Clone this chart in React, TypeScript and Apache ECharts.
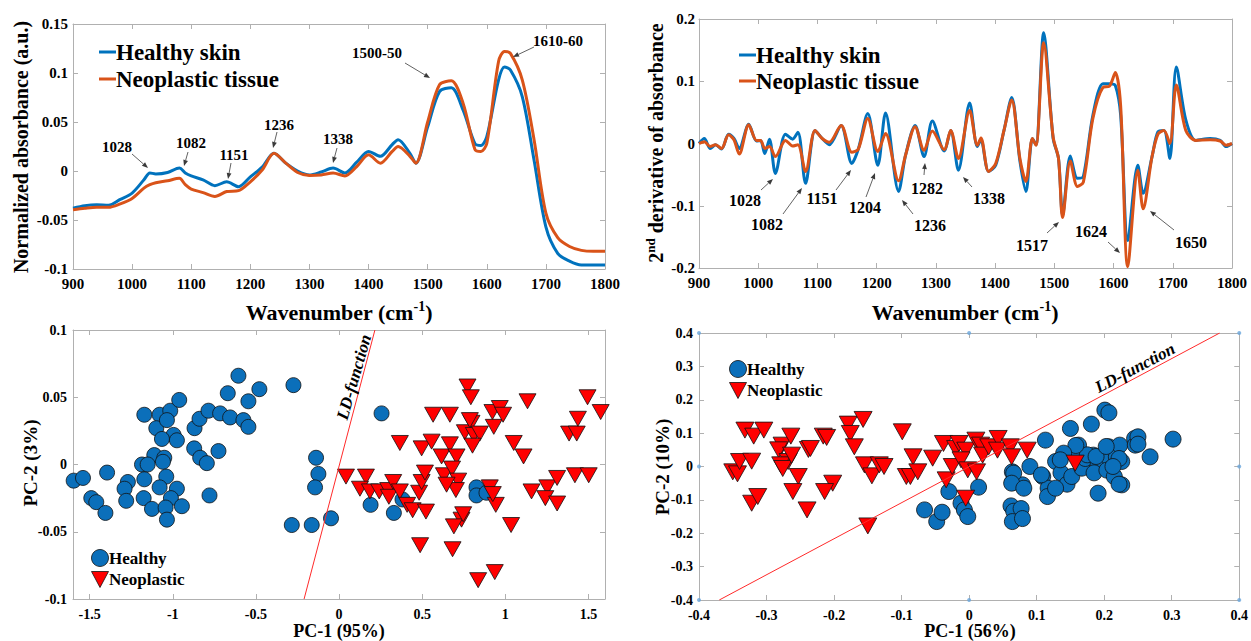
import { useEffect, useRef } from "react";
import * as echarts from "echarts";

// ---------------- DATA ----------------
const absWavenumbers = [900, 920, 940, 960, 980, 1000, 1020, 1030, 1040, 1060, 1080, 1090, 1100, 1120, 1140, 1160, 1180, 1200, 1220, 1240, 1260, 1280, 1300, 1320, 1340, 1360, 1380, 1400, 1420, 1440, 1450, 1470, 1480, 1500, 1520, 1540, 1560, 1580, 1590, 1600, 1620, 1630, 1640, 1660, 1680, 1700, 1720, 1740, 1760, 1780, 1800];
const absHealthy = [-0.038, -0.0355, -0.0345, -0.035, -0.029, -0.0225, -0.009, -0.002, -0.003, -0.0015, 0.003, -0.002, -0.005, -0.009, -0.015, -0.011, -0.016, -0.006, 0.004, 0.018, 0.008, 0, -0.004, -0.001, 0.003, -0.002, 0.009, 0.02, 0.015, 0.027, 0.032, 0.018, 0.008, 0.045, 0.081, 0.085, 0.062, 0.028, 0.026, 0.035, 0.093, 0.106, 0.103, 0.076, 0.011, -0.057, -0.084, -0.092, -0.096, -0.096, -0.096];
const absNeoplastic = [-0.0395, -0.038, -0.037, -0.037, -0.0335, -0.028, -0.0175, -0.014, -0.012, -0.01, -0.0075, -0.014, -0.0185, -0.022, -0.026, -0.021, -0.02, -0.011, 0.001, 0.018, 0.008, -0.0015, -0.0045, -0.004, -0.002, -0.005, 0.0045, 0.0165, 0.008, 0.02, 0.025, 0.015, 0.008, 0.05, 0.088, 0.092, 0.069, 0.022, 0.02, 0.028, 0.112, 0.122, 0.12, 0.093, 0.032, -0.043, -0.068, -0.077, -0.081, -0.082, -0.082];

const derivWavenumbers = [900, 909, 919, 928, 938, 950, 959, 968, 984, 997, 1004, 1011, 1019, 1029, 1046, 1058, 1067, 1080, 1096, 1108, 1120, 1140, 1158, 1169, 1185, 1202, 1215, 1237, 1249, 1265, 1280, 1294, 1314, 1325, 1338, 1357, 1370, 1376, 1389, 1401, 1415, 1428, 1442, 1452, 1463, 1469, 1482, 1498, 1507, 1514, 1527, 1539, 1549, 1565, 1582, 1593, 1603, 1612, 1624, 1641, 1650, 1665, 1675, 1685, 1695, 1706, 1722, 1739, 1763, 1780, 1790, 1800];
const derivHealthy = [0, 0.008, -0.008, -0.002, -0.009, 0.015, 0.008, -0.008, 0.031, 0.004, 0.005, -0.016, 0.007, -0.048, 0.015, 0.007, 0.018, -0.064, 0.021, 0.008, -0.002, 0.029, -0.032, -0.009, 0.048, -0.035, 0.049, -0.077, -0.018, 0.029, -0.021, 0.036, -0.012, 0.021, -0.043, 0.065, -0.005, 0.006, -0.045, -0.035, 0.021, 0.074, -0.029, -0.077, 0.008, -0.002, 0.178, 0.008, -0.024, -0.115, -0.02, -0.056, -0.053, 0.045, 0.096, 0.096, 0.093, 0.045, -0.156, -0.035, -0.08, -0.021, 0.019, 0.021, -0.024, 0.123, 0.038, 0.005, 0.008, 0.005, -0.005, 0];
const derivNeoplastic = [0, 0.003, -0.005, -0.002, -0.008, 0.014, 0.006, -0.017, 0.03, 0.005, 0.005, -0.008, -0.005, -0.021, 0.005, -0.004, -0.002, -0.045, 0.021, 0.008, 0.002, 0.029, -0.014, -0.009, 0.04, -0.013, 0.016, -0.06, -0.018, 0.027, -0.011, 0.02, -0.01, 0.021, -0.024, 0.053, -0.003, 0.009, -0.045, -0.032, 0.021, 0.07, -0.025, -0.061, 0.008, -0.003, 0.162, 0.01, -0.024, -0.119, -0.028, -0.069, -0.062, 0.04, 0.09, 0.092, 0.114, 0.06, -0.198, -0.043, -0.105, -0.021, 0.015, 0.021, 0, 0.094, 0.021, 0.005, 0.006, 0.004, -0.003, 0];

const pcaHealthy = [[-1.596, -0.012], [-1.54, -0.01], [-1.395, -0.006], [-1.49, -0.025], [-1.46, -0.028], [-1.405, -0.036], [-1.27, -0.013], [-1.29, -0.018], [-1.28, -0.027], [-1.171, 0.037], [-1.079, 0.037], [-1.099, 0.027], [-1.015, 0.04], [-0.961, 0.048], [-1.035, 0.033], [-0.995, 0.022], [-0.975, 0.018], [-1.065, 0.019], [-1.111, 0.007], [-1.051, 0.005], [-1.185, 0], [-1.151, 0], [-1.059, 0.002], [-1.171, -0.011], [-1.039, -0.009], [-1.079, -0.017], [-0.975, -0.018], [-1.011, -0.025], [-1.175, -0.025], [-1.125, -0.033], [-1.043, -0.032], [-0.945, -0.031], [-1.035, -0.041], [-0.869, 0.027], [-0.839, 0.034], [-0.785, 0.04], [-0.715, 0.038], [-0.655, 0.035], [-0.575, 0.033], [-0.545, 0.028], [-0.545, 0.047], [-0.669, 0.053], [-0.605, 0.066], [-0.479, 0.056], [-0.871, 0.012], [-0.835, 0.005], [-0.795, 0.001], [-0.725, 0.01], [-0.779, -0.023], [-0.274, 0.059], [-0.138, 0.005], [-0.124, -0.007], [-0.144, -0.017], [-0.284, -0.045], [-0.164, -0.045], [-0.048, -0.04], [0.256, 0.038], [0.19, -0.03], [0.33, -0.036], [0.382, -0.026], [0.827, -0.017], [0.827, -0.023], [0.887, -0.021]];
const pcaNeoplastic = [[0.042, -0.009], [0.162, -0.009], [0.126, -0.018], [0.186, -0.02], [0.242, -0.02], [0.296, -0.019], [0.326, -0.013], [0.3, -0.024], [0.366, -0.02], [0.41, -0.03], [0.443, -0.034], [0.482, -0.021], [0.497, -0.013], [0.517, -0.006], [0.523, -0.035], [0.366, 0.016], [0.497, 0.012], [0.557, 0.017], [0.566, 0.037], [0.667, 0.037], [0.617, 0.006], [0.667, 0.015], [0.707, 0.006], [0.631, -0.008], [0.68, -0.003], [0.717, -0.012], [0.703, -0.019], [0.647, -0.015], [0.737, -0.041], [0.691, -0.046], [0.488, -0.06], [0.683, -0.063], [0.773, 0.058], [0.793, 0.05], [0.757, 0.024], [0.797, 0.031], [0.811, 0.022], [0.847, 0.023], [0.787, 0.033], [0.803, 0.014], [0.923, 0.039], [0.967, 0.042], [0.931, 0.028], [0.987, 0.037], [0.907, -0.017], [0.943, -0.03], [0.925, -0.022], [0.747, -0.037], [0.837, -0.086], [0.937, -0.08], [1.051, 0.016], [1.035, -0.045], [1.11, 0.006], [1.134, 0.047], [1.158, -0.02], [1.253, -0.017], [1.241, -0.025], [1.312, -0.01], [1.312, -0.029], [1.419, -0.008], [1.502, -0.008], [1.384, 0.023], [1.43, 0.023], [1.437, 0.034], [1.495, 0.05], [1.574, 0.039]];
const pcaLdLine = [[-0.21, -0.1], [0.216, 0.1]];
const pcaXTicks = [-1.5, -1, -0.5, 0, 0.5, 1, 1.5];

const pca2Healthy = [[-0.066, -0.13], [-0.048, -0.165], [-0.04, -0.137], [-0.03, -0.075], [-0.012, -0.11], [-0.007, -0.13], [-0.002, -0.15], [0.014, -0.062], [0.064, -0.016], [0.064, -0.048], [0.079, -0.055], [0.062, -0.118], [0.066, -0.134], [0.077, -0.126], [0.064, -0.165], [0.079, -0.156], [0.09, 0], [0.113, 0.079], [0.109, -0.03], [0.117, -0.065], [0.116, -0.09], [0.128, 0.015], [0.136, -0.019], [0.145, -0.053], [0.15, 0.114], [0.152, -0.03], [0.162, 0.064], [0.167, -0.005], [0.172, 0.024], [0.181, 0.127], [0.184, 0.034], [0.191, -0.08], [0.191, 0.005], [0.185, -0.019], [0.201, 0.169], [0.207, 0.161], [0.207, 0.059], [0.206, 0.029], [0.204, -0.011], [0.215, -0.03], [0.218, 0.029], [0.223, 0.064], [0.226, 0.015], [0.226, -0.055], [0.245, 0.084], [0.246, 0.064], [0.25, 0.089], [0.25, 0.067], [0.268, 0.029], [0.302, 0.082], [0.222, 0.024], [0.222, -0.053], [0.213, 0], [0.155, 0.04], [0.175, 0.035], [0.188, 0.03], [0.203, 0.06], [0.158, 0.063], [0.14, 0.04], [0.135, 0.02], [0.066, -0.02], [0.063, -0.05], [0.081, -0.065], [0.107, -0.025], [0.128, -0.065]];
const pca2Neoplastic = [[-0.332, 0.109], [-0.319, 0.091], [-0.304, 0.109], [-0.35, -0.016], [-0.343, -0.022], [-0.34, 0.015], [-0.322, 0.016], [-0.322, -0.11], [-0.313, -0.09], [-0.277, 0.064], [-0.282, 0.05], [-0.264, 0.091], [-0.268, 0.015], [-0.279, 0.005], [-0.276, -0.006], [-0.263, 0.034], [-0.253, -0.03], [-0.261, -0.075], [-0.24, -0.13], [-0.238, 0.051], [-0.235, 0.054], [-0.216, 0.091], [-0.211, 0.087], [-0.202, -0.05], [-0.214, -0.075], [-0.179, 0.127], [-0.157, 0.141], [-0.176, 0.099], [-0.17, 0.059], [-0.155, 0.005], [-0.144, -0.028], [-0.133, 0.005], [-0.126, 0], [-0.15, -0.178], [-0.099, 0.104], [-0.083, 0.029], [-0.093, -0.03], [-0.087, -0.03], [-0.076, -0.016], [-0.054, 0.025], [-0.038, 0.069], [-0.034, -0.04], [-0.025, 0], [-0.02, 0.054], [-0.015, 0.069], [-0.005, 0.049], [-0.012, 0.02], [-0.002, -0.01], [-0.005, -0.095], [0.01, 0.079], [0.017, 0.064], [0.011, -0.016], [0.02, 0.034], [0.029, 0.059], [0.043, 0.084], [0.042, 0.049], [0.061, 0.059], [0.063, 0.029], [0.086, 0.049], [0.157, 0.01]];
const pca2LdLine = [[-0.37, -0.4], [0.371, 0.4]];
const pca2FrameMarks = [[-0.4, 0.4], [0, 0.4], [0.4, 0.4], [-0.4, 0], [0.4, 0], [-0.4, -0.4], [0, -0.4], [0.4, -0.4]];

const absPeakLabels = ["1028", "1082", "1151", "1236", "1338", "1500-50", "1610-60"];
const derivPeakLabels = ["1028", "1082", "1151", "1204", "1236", "1282", "1338", "1517", "1624", "1650"];

// ---------------- LAYOUT / STYLE ----------------
const FONT = "Liberation Serif, Times New Roman, serif";
const BLUE = "#0072BD";
const ORANGE = "#D95319";
const DOT_BLUE = "#0b6fba";
const RED = "#ff0000";
const AXIS_GRAY = "#b0b0b0";

const GRIDS = [
  { left: 73, top: 24, width: 532, height: 245 },
  { left: 699, top: 19, width: 533, height: 249 },
  { left: 73, top: 330, width: 532, height: 269 },
  { left: 699, top: 333, width: 543, height: 267 },
];

// label position [textX, textY, arrowFromX, arrowFromY, arrowToX, arrowToY]
const absLabelPos = [
  [117, 147, 132, 154, 148, 168],
  [191, 143, 188, 152, 184, 166],
  [234, 155, 231, 163, 228, 179],
  [279, 125, 277, 132, 273, 148],
  [338, 139, 337, 148, 333, 163],
  [377, 53, 405, 63, 430, 78],
  [558, 41, 534, 47, 513, 57],
];
const derivLabelPos = [
  [745, 200, 761, 190, 773, 179],
  [767, 224, 783, 214, 802, 188],
  [822, 198, 836, 190, 851, 170],
  [865, 207, 866, 197, 875, 173],
  [930, 225, 913, 214, 902, 200],
  [927, 188, 924, 175, 925, 163],
  [989, 198, 972, 187, 963, 177],
  [1032, 245, 1047, 233, 1059, 222],
  [1091, 231, 1108, 242, 1120, 253],
  [1191, 242, 1174, 230, 1150, 211],
];

function zip(xs: number[], ys: number[]) {
  return xs.map((x, i) => [x, ys[i]]);
}

const fmt = (v: number) => String(Math.round(v * 10000) / 10000);

function makeAxes(
  gi: number,
  min: number,
  max: number,
  interval: number | null,
  fontSize: number,
  margin: number,
  custom?: number[]
) {
  const line = { show: true, onZero: false, lineStyle: { color: AXIS_GRAY, width: 1 } };
  const tick: any = { show: true, inside: true, length: 5, lineStyle: { color: AXIS_GRAY } };
  if (custom) tick.customValues = custom;
  const label: any = {
    show: true,
    color: "#000",
    fontFamily: FONT,
    fontWeight: "bold",
    fontSize,
    margin,
    formatter: fmt,
  };
  if (custom) label.customValues = custom;
  const base: any = { type: "value", gridIndex: gi, min, max, splitLine: { show: false }, axisLine: line };
  if (interval != null) base.interval = interval;
  return [
    { ...base, axisTick: tick, axisLabel: label },
    { ...base, axisTick: tick, axisLabel: { show: false } },
  ];
}

function arrow(x1: number, y1: number, x2: number, y2: number) {
  const dx = x2 - x1;
  const dy = y2 - y1;
  const L = Math.hypot(dx, dy) || 1;
  const ux = dx / L;
  const uy = dy / L;
  const hl = 6;
  const hw = 2.4;
  const bx = x2 - ux * hl;
  const by = y2 - uy * hl;
  return [
    { type: "line", silent: true, z: 50, shape: { x1, y1, x2: bx, y2: by }, style: { stroke: "#3a3a3a", lineWidth: 0.8 } },
    {
      type: "polygon",
      silent: true,
      z: 50,
      shape: { points: [[x2, y2], [bx - uy * hw, by + ux * hw], [bx + uy * hw, by - ux * hw]] },
      style: { fill: "#3a3a3a" },
    },
  ];
}

function text(x: number, y: number, t: string, size: number, extra: any = {}, rotation = 0, align = "center") {
  return {
    type: "text",
    silent: true,
    z: 60,
    x,
    y,
    rotation,
    style: {
      text: t,
      fill: "#000",
      fontFamily: FONT,
      fontWeight: "bold",
      fontSize: size,
      align,
      verticalAlign: "middle",
      ...extra,
    },
  };
}

function richText(x: number, y: number, t: string, size: number, supSize: number, rotation = 0) {
  return {
    type: "text",
    silent: true,
    z: 60,
    x,
    y,
    rotation,
    style: {
      text: t,
      fill: "#000",
      fontFamily: FONT,
      fontWeight: "bold",
      fontSize: size,
      align: "center",
      verticalAlign: "middle",
      rich: {
        a: { fontFamily: FONT, fontWeight: "bold", fontSize: size, fill: "#000", color: "#000", lineHeight: size + 2, verticalAlign: "bottom" },
        s: { fontFamily: FONT, fontWeight: "bold", fontSize: supSize, fill: "#000", color: "#000", lineHeight: size + 2, verticalAlign: "top" },
      },
    },
  };
}

function lineLegend(x: number, y: number, color: string, label: string) {
  return [
    { type: "line", silent: true, z: 60, shape: { x1: x, y1: y, x2: x + 17, y2: y }, style: { stroke: color, lineWidth: 3 } },
    text(x + 17, y, label, 23, {}, 0, "left"),
  ];
}

function markerLegend(x: number, y: number, gap: number, r: number) {
  return [
    { type: "circle", silent: true, z: 60, shape: { cx: x, cy: y, r }, style: { fill: DOT_BLUE, stroke: "#111", lineWidth: 0.8 } },
    text(x + r + 0.5, y, "Healthy", 17, {}, 0, "left"),
    {
      type: "polygon",
      silent: true,
      z: 60,
      shape: { points: [[x - r, y + gap - r + 1], [x + r, y + gap - r + 1], [x, y + gap + r]] },
      style: { fill: RED, stroke: "#111", lineWidth: 0.8 },
    },
    text(x + r + 0.5, y + gap, "Neoplastic", 17, {}, 0, "left"),
  ];
}

export default function App() {
  const ref = useRef<HTMLDivElement>(null);

  useEffect(() => {
    if (!ref.current) return;
    const chart = echarts.init(ref.current, undefined, { renderer: "svg" });

    const xAxis = [
      ...makeAxes(0, 900, 1800, 100, 15, 7),
      ...makeAxes(1, 900, 1800, 100, 15, 7),
      ...makeAxes(2, -1.6, 1.6, null, 14, 8, pcaXTicks),
      ...makeAxes(3, -0.4, 0.4, 0.1, 14, 8),
    ];
    xAxis[1].position = "top";
    xAxis[3].position = "top";
    xAxis[5].position = "top";
    xAxis[7].position = "top";
    const yAxis = [
      ...makeAxes(0, -0.1, 0.15, 0.05, 15, 5),
      ...makeAxes(1, -0.2, 0.2, 0.1, 15, 4),
      ...makeAxes(2, -0.1, 0.1, 0.05, 14, 6),
      ...makeAxes(3, -0.4, 0.4, 0.1, 14, 6),
    ];
    yAxis[1].position = "right";
    yAxis[3].position = "right";
    yAxis[5].position = "right";
    yAxis[7].position = "right";

    const lineSeries = (name: string, xi: number, data: number[][], color: string, w: number) => ({
      name,
      type: "line",
      xAxisIndex: xi,
      yAxisIndex: xi,
      data,
      smooth: 0.3,
      showSymbol: false,
      symbol: "none",
      lineStyle: { color, width: w },
      silent: true,
    });

    const scatter = (name: string, xi: number, data: number[][], kind: "c" | "t", size: any) => ({
      name,
      type: "scatter",
      xAxisIndex: xi,
      yAxisIndex: xi,
      data,
      clip: false,
      symbol: kind === "c" ? "circle" : "triangle",
      symbolRotate: kind === "c" ? 0 : 180,
      symbolSize: size,
      itemStyle: { color: kind === "c" ? DOT_BLUE : RED, borderColor: "#111", borderWidth: 0.8, opacity: 1 },
      silent: true,
    });

    const ldSeries = (xi: number, data: number[][]) => ({
      type: "line",
      xAxisIndex: xi,
      yAxisIndex: xi,
      data,
      showSymbol: false,
      symbol: "none",
      lineStyle: { color: "#ff2a2a", width: 1 },
      silent: true,
    });

    const graphic: any[] = [];
    // legends
    graphic.push(...lineLegend(99, 52, BLUE, "Healthy skin"));
    graphic.push(...lineLegend(99, 79, ORANGE, "Neoplastic tissue"));
    graphic.push(...lineLegend(739, 55, BLUE, "Healthy skin"));
    graphic.push(...lineLegend(739, 81, ORANGE, "Neoplastic tissue"));
    graphic.push(...markerLegend(100, 558, 21, 8.5));
    graphic.push(...markerLegend(738, 369, 21, 8.5));
    // peak annotations
    absPeakLabels.forEach((lab, i) => {
      const p = absLabelPos[i];
      graphic.push(text(p[0], p[1], lab, 15));
      graphic.push(...arrow(p[2], p[3], p[4], p[5]));
    });
    derivPeakLabels.forEach((lab, i) => {
      const p = derivLabelPos[i];
      graphic.push(text(p[0], p[1], lab, 16));
      graphic.push(...arrow(p[2], p[3], p[4], p[5]));
    });
    // axis titles
    graphic.push(text(21, 147, "Normalized absorbance (a.u.)", 20, {}, Math.PI / 2));
    graphic.push(richText(655, 143, "{a|2}{s|nd}{a| derivative of absorbance}", 20, 13, Math.PI / 2));
    graphic.push(richText(339, 311, "{a|Wavenumber (cm}{s|-1}{a|)}", 22, 14));
    graphic.push(richText(965, 311, "{a|Wavenumber (cm}{s|-1}{a|)}", 22, 14));
    graphic.push(text(30, 463, "PC-2 (3%)", 19, {}, Math.PI / 2));
    graphic.push(text(339, 631, "PC-1 (95%)", 18));
    graphic.push(text(662, 467, "PC-2 (10%)", 19, {}, Math.PI / 2));
    graphic.push(text(970, 631, "PC-1 (56%)", 18));
    // LD-function labels
    graphic.push(text(354, 377, "LD-function", 17, { fontStyle: "italic" }, (74 * Math.PI) / 180));
    graphic.push(text(1135, 368, "LD-function", 17, { fontStyle: "italic" }, (27.8 * Math.PI) / 180));

    const option: any = {
      animation: false,
      backgroundColor: "#ffffff",
      grid: GRIDS.map((g) => ({ ...g, containLabel: false, show: false })),
      xAxis,
      yAxis,
      series: [
        lineSeries("Healthy skin", 0, zip(absWavenumbers, absHealthy), BLUE, 3),
        lineSeries("Neoplastic tissue", 0, zip(absWavenumbers, absNeoplastic), ORANGE, 3),
        lineSeries("Healthy skin", 2, zip(derivWavenumbers, derivHealthy), BLUE, 3),
        lineSeries("Neoplastic tissue", 2, zip(derivWavenumbers, derivNeoplastic), ORANGE, 3),
        ldSeries(4, pcaLdLine),
        scatter("Healthy", 4, pcaHealthy, "c", 15),
        scatter("Neoplastic", 4, pcaNeoplastic, "t", [17, 15]),
        ldSeries(6, pca2LdLine),
        scatter("Healthy", 6, pca2Healthy, "c", 16),
        scatter("Neoplastic", 6, pca2Neoplastic, "t", [18, 16]),
        {
          type: "scatter",
          xAxisIndex: 6,
          yAxisIndex: 6,
          data: pca2FrameMarks,
          symbol: "circle",
          symbolSize: 4,
          clip: false,
          itemStyle: { color: "#6aa6dc" },
          silent: true,
        },
      ],
      graphic,
    };
    chart.setOption(option);
    return () => chart.dispose();
  }, []);

  return (
    <div
      ref={ref}
      style={{ position: "absolute", left: 0, top: 0, width: 1251, height: 641, background: "#fff" }}
    />
  );
}
